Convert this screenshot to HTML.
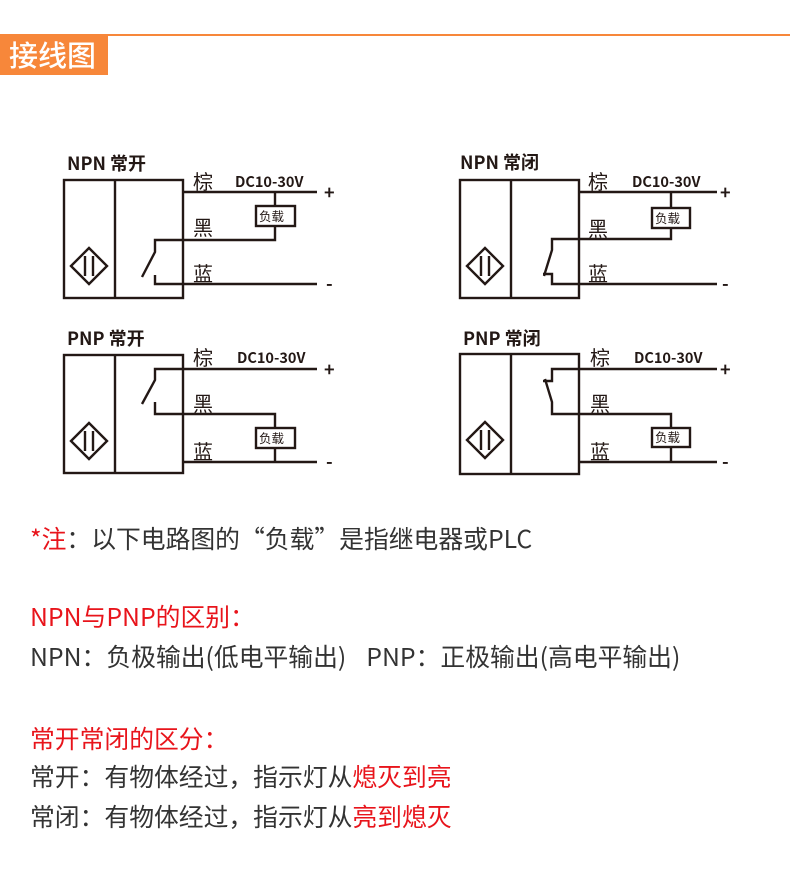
<!DOCTYPE html>
<html><head><meta charset="utf-8"><style>
body{margin:0;width:790px;height:870px;background:#fff;overflow:hidden;position:relative;font-family:"Noto Sans CJK SC","Liberation Sans",sans-serif}
.t{position:absolute;left:30px;font-size:24.8px;color:#333;white-space:nowrap;line-height:1}
.r{color:#e8141b}
svg{position:absolute;left:0;top:0}
</style></head><body>
<svg width="790" height="870" viewBox="0 0 790 870" font-family="Noto Sans CJK SC, Liberation Sans, sans-serif">
<rect x="0" y="34" width="790" height="2" fill="#f7873a"/>
<rect x="0" y="35" width="108" height="40" fill="#f7873a"/>
<text x="9" y="66" font-size="29" font-weight="500" fill="#fff">接线图</text>
<g stroke="#231815" stroke-width="2.4" fill="none">
<rect x="64" y="180" width="119" height="118"/><line x1="115" y1="180" x2="115" y2="298"/>
<polygon points="71,266 89,248 107,266 89,284"/><line x1="85" y1="256" x2="85" y2="276"/><line x1="93" y1="256" x2="93" y2="276"/>
<polyline points="183,192 317,192"/><polyline points="275,192 275,206"/><rect x="256" y="206" width="39" height="20"/><polyline points="275,226 275,240 155,240 155,252 142,277"/>
<polyline points="155,275 155,284 317,284"/>
<rect x="460" y="180" width="119" height="118"/><line x1="511" y1="180" x2="511" y2="298"/>
<polygon points="467,266 485,248 503,266 485,284"/><line x1="481" y1="256" x2="481" y2="276"/><line x1="489" y1="256" x2="489" y2="276"/>
<polyline points="579,192 717,192"/><polyline points="671,192 671,208"/><rect x="652" y="208" width="38" height="20"/><polyline points="671,228 671,239 552,239 552,250 544,276"/>
<polyline points="543,274 552,274 552,284 717,284"/>
<rect x="64" y="355" width="119" height="118"/><line x1="115" y1="355" x2="115" y2="473"/>
<polygon points="71,441 89,423 107,441 89,459"/><line x1="85" y1="431" x2="85" y2="451"/><line x1="93" y1="431" x2="93" y2="451"/>
<polyline points="317,369 155,369 155,380 142,404"/><polyline points="155,402 155,414 275,414 275,428"/><rect x="256" y="428" width="39" height="20"/><polyline points="275,448 275,462"/>
<polyline points="183,462 317,462"/>
<rect x="460" y="354" width="119" height="120"/><line x1="511" y1="354" x2="511" y2="474"/>
<polygon points="467,440 485,422 503,440 485,458"/><line x1="481" y1="430" x2="481" y2="450"/><line x1="489" y1="430" x2="489" y2="450"/>
<polyline points="717,369 552,369 552,381 543,381"/><polyline points="545,379 552,402 552,414 671,414 671,428"/><rect x="652" y="428" width="38" height="19"/><polyline points="671,447 671,462"/>
<polyline points="579,462 717,462"/>
</g>
<g fill="#231815" font-size="18">
<g font-weight="bold" font-size="18">
<text x="67" y="170">NPN 常开</text>
<text x="460" y="169">NPN 常闭</text>
<text x="67" y="345">PNP 常开</text>
<text x="463" y="345">PNP 常闭</text>
</g>
<g font-size="20">
<text x="193" y="189">棕</text><text x="193" y="235">黑</text><text x="193" y="281">蓝</text>
<text x="588" y="189">棕</text><text x="588" y="236">黑</text><text x="588" y="281">蓝</text>
<text x="193" y="365">棕</text><text x="193" y="411">黑</text><text x="193" y="459">蓝</text>
<text x="590" y="365">棕</text><text x="590" y="411">黑</text><text x="590" y="459">蓝</text>
</g>
<g font-size="14.5" font-weight="bold">
<text x="235" y="187">DC10-30V</text><text x="632" y="187">DC10-30V</text>
<text x="237" y="363">DC10-30V</text><text x="634" y="363">DC10-30V</text>
</g>
<g font-size="12.5"><text x="259" y="221">负载</text><text x="655" y="223">负载</text><text x="259" y="443">负载</text><text x="655" y="442">负载</text></g>
<g font-size="18" font-weight="bold"><text x="324" y="199">+</text><text x="720" y="199">+</text><text x="324" y="376">+</text><text x="720" y="376">+</text>
<text x="326" y="290">-</text><text x="722" y="290">-</text><text x="326" y="468">-</text><text x="722" y="468">-</text></g>
</g>
</svg>
<div class="t" style="top:526px"><span class="r">*注</span>：以下电路图的“负载”是指继电器或PLC</div>
<div class="t r" style="top:604px">NPN与PNP的区别：</div>
<div class="t" style="top:644px">NPN：负极输出(低电平输出)<span style="display:inline-block;width:20px"></span>PNP：正极输出(高电平输出)</div>
<div class="t r" style="top:726px">常开常闭的区分：</div>
<div class="t" style="top:764px">常开：有物体经过，指示灯从<span class="r">熄灭到亮</span></div>
<div class="t" style="top:804px">常闭：有物体经过，指示灯从<span class="r">亮到熄灭</span></div>
</body></html>
